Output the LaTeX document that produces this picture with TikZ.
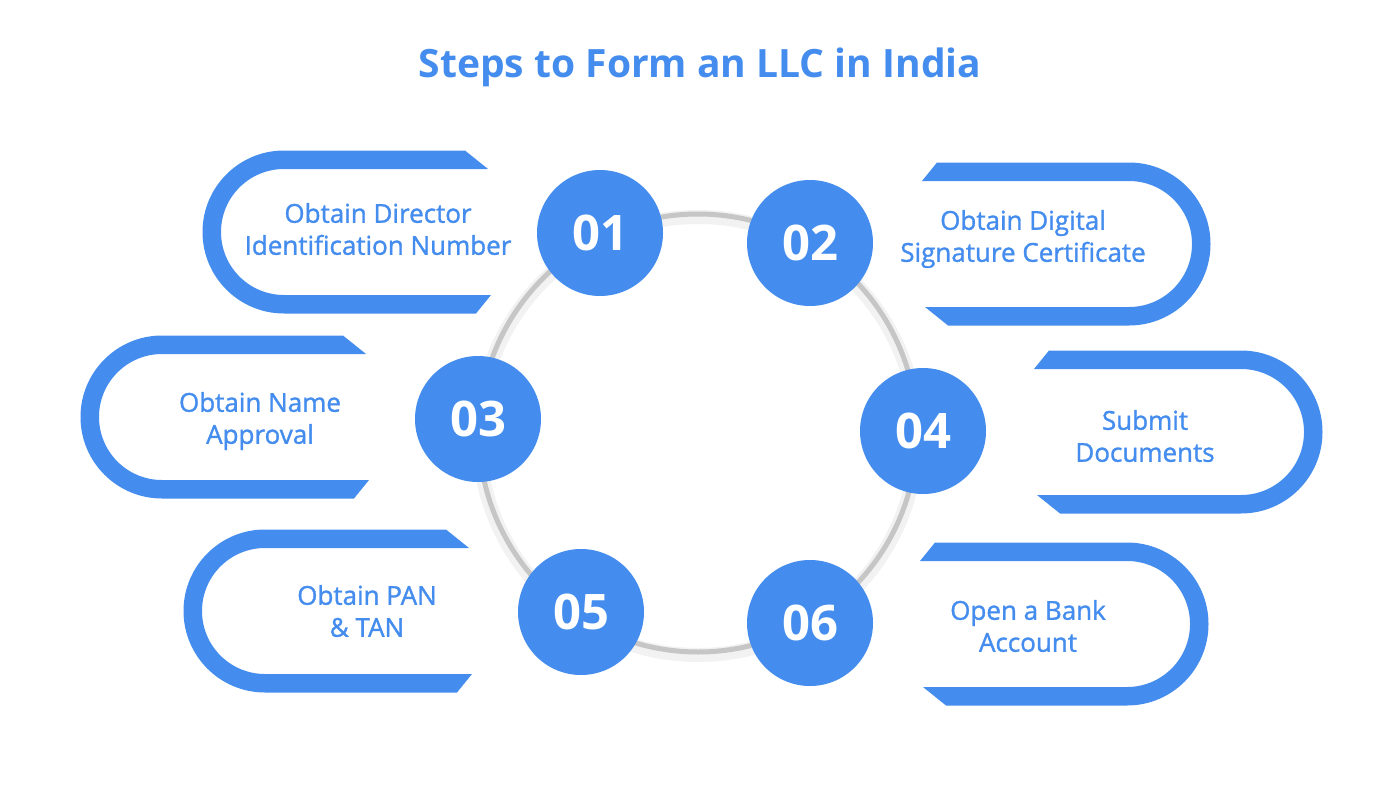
\documentclass[tikz,border=0pt]{standalone}
\usepackage{fontspec}
\setmainfont{Open Sans}
\newfontfamily\labelfont{Open Sans}[FakeBold=1.2]
\definecolor{stepblue}{RGB}{68,141,238}
\tikzset{
  bracketshape/.pic={
    \fill[stepblue] (181,-81.5) -- (0,-81.5)
      arc[start angle=-90,end angle=-270,radius=81.5]
      -- (192,81.5) -- (207,63) -- (0,63)
      arc[start angle=90,end angle=270,radius=63]
      -- (204,-63) -- cycle;
  },
  numcircle/.style={circle,fill=stepblue,minimum size=126pt,inner sep=0pt,
    text=white,font=\fontsize{49}{50}\selectfont\bfseries},
  steplabel/.style={align=center,text=stepblue,inner sep=0pt,
    font=\labelfont\fontsize{26}{32}\selectfont},
  titletext/.style={text=stepblue,font=\fontsize{39}{46}\selectfont\bfseries}
}
\begin{document}
\begin{tikzpicture}[x=1pt,y=-1pt]
\useasboundingbox[fill=white] (0,0) rectangle (1400,800);
\node[titletext] (title) at (700,67) {Steps to Form an LLC in India};
% ring
\draw[gray!10,line width=14pt] (698,436) circle[radius=219];
\draw[gray!45,line width=5pt] (698,433) circle[radius=219];
% brackets
\pic at (284,232) {bracketshape};
\pic[rotate=180] at (1129,244) {bracketshape};
\pic at (162,417) {bracketshape};
\pic[rotate=180] at (1241,432) {bracketshape};
\pic at (265,611) {bracketshape};
\pic[rotate=180] at (1127,624) {bracketshape};
% labels
\node[steplabel] (l1) at (378,229) {Obtain Director\\Identification Number};
\node[steplabel] (l2) at (1023,239) {Obtain Digital\\Signature Certificate};
\node[steplabel] (l3) at (260,421) {Obtain Name\\Approval};
\node[steplabel] (l4) at (1145,436) {Submit\\Documents};
\node[steplabel] (l5) at (367,611) {Obtain PAN\\\& TAN};
\node[steplabel] (l6) at (1028,626) {Open a Bank\\Account};
% number circles
\node[numcircle] (c1) at (600,233) {01};
\node[numcircle] (c2) at (810,243) {02};
\node[numcircle] (c3) at (478,419) {03};
\node[numcircle] (c4) at (923,431) {04};
\node[numcircle] (c5) at (581,612) {05};
\node[numcircle] (c6) at (810,623) {06};
\end{tikzpicture}
\end{document}
